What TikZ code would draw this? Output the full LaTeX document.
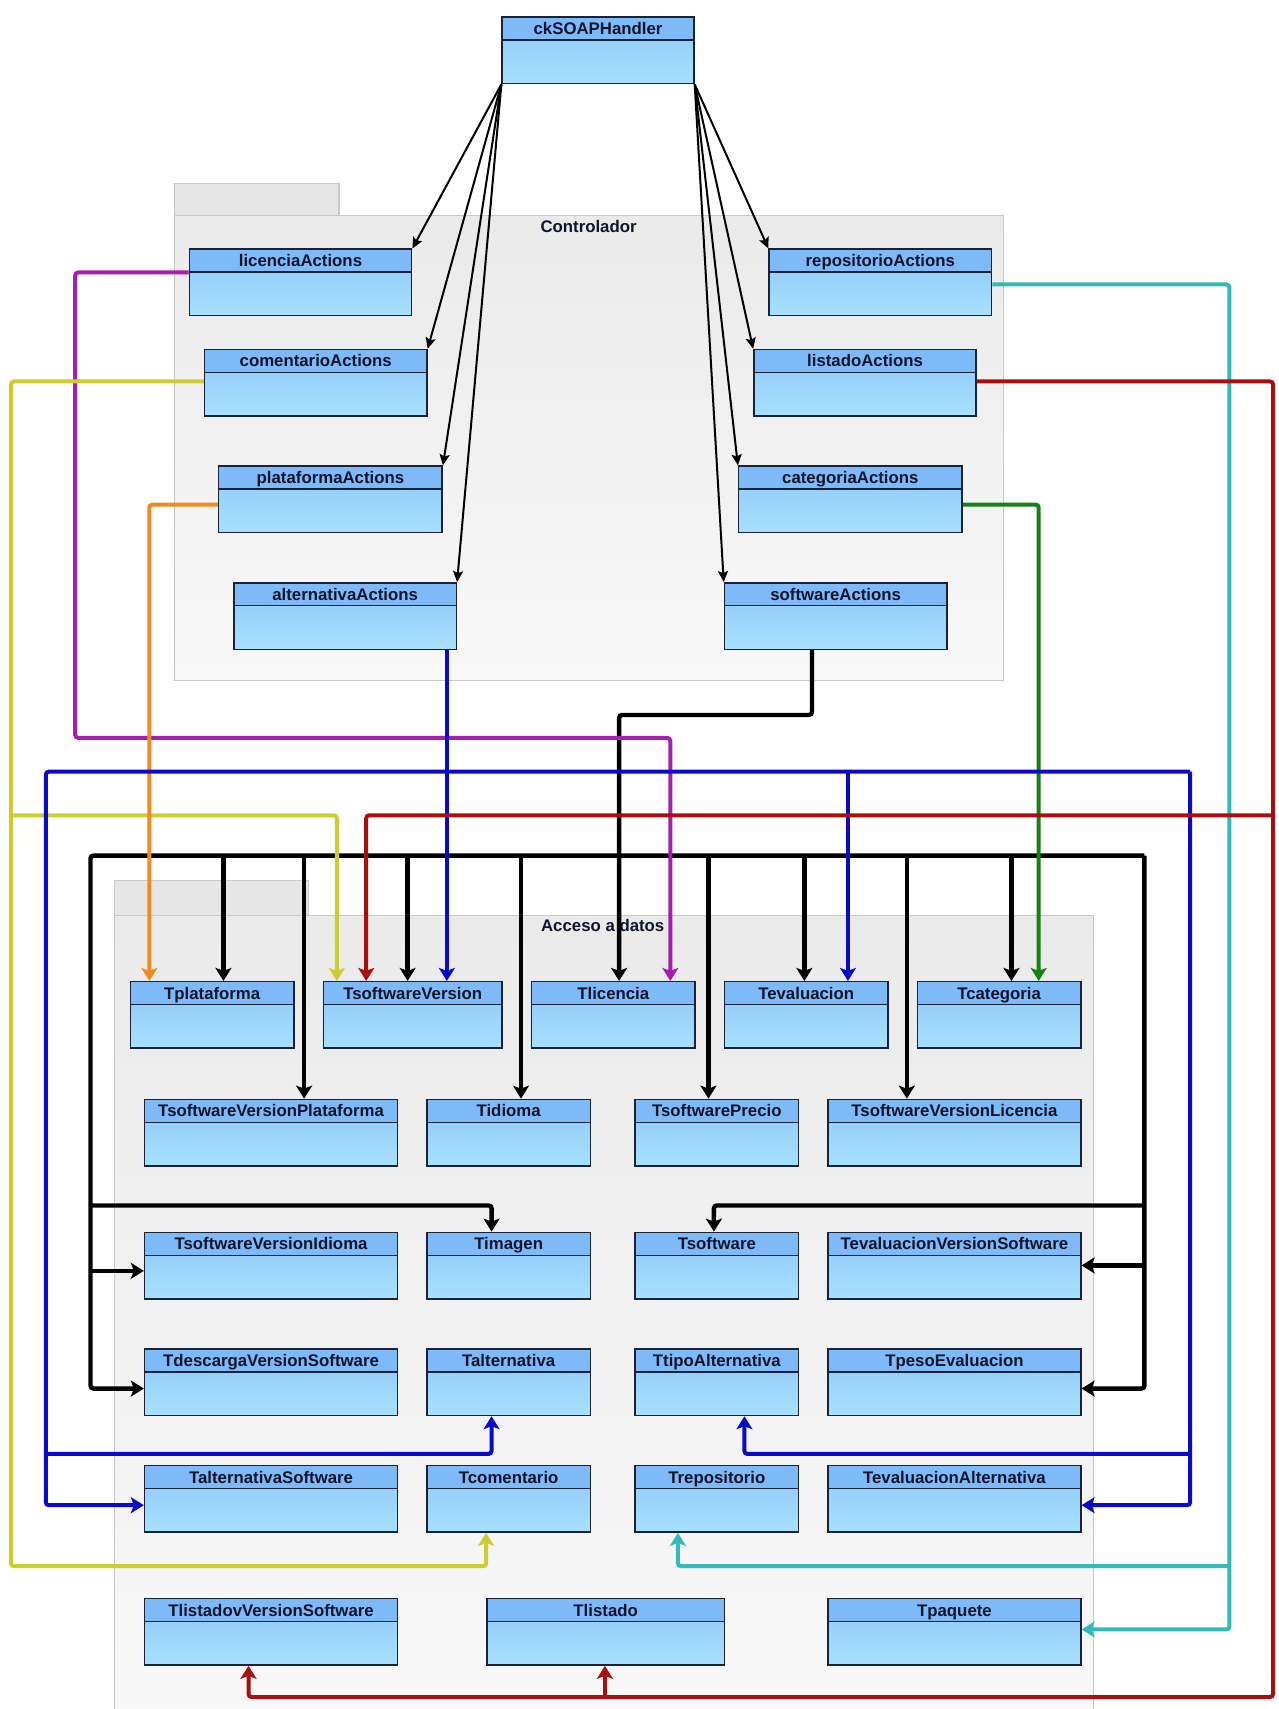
\documentclass[tikz,border=0pt]{standalone}
\usepackage{fontspec}
\setmainfont{Liberation Sans}
\usepackage{tikz}
\usetikzlibrary{arrows.meta}
\newcommand{\upx}{0.545pt}
\definecolor{classedge}{RGB}{25,35,55}
\definecolor{classtext}{RGB}{15,20,45}
\definecolor{headblue}{RGB}{126,186,248}
\definecolor{bodytop}{RGB}{140,200,250}
\definecolor{bodybottom}{RGB}{168,224,253}
\definecolor{pkgedge}{RGB}{200,200,200}
\definecolor{tabgray}{RGB}{230,230,230}
\definecolor{pkgtop}{RGB}{234,234,234}
\definecolor{pkgbottom}{RGB}{248,248,248}
\definecolor{lilac}{RGB}{165,30,175}
\definecolor{mustard}{RGB}{204,204,51}
\definecolor{amber}{RGB}{240,140,30}
\definecolor{royal}{RGB}{10,10,200}
\definecolor{leaf}{RGB}{20,130,20}
\definecolor{tealish}{RGB}{50,185,185}
\definecolor{wine}{RGB}{170,15,15}
\tikzset{
  umlclass/.style={rectangle, draw=classedge, line width=0.75pt, anchor=north west,
              inner sep=0pt, text height=16*\upx, text depth=45*\upx, text=classtext,
              font=\fontsize{8.4}{10}\selectfont\bfseries,
              top color=bodytop, bottom color=bodybottom,
              path picture={
                \fill[headblue] (path picture bounding box.north west) rectangle
                  ([yshift=-21*\upx]path picture bounding box.north east);
                \draw[classedge, line width=0.75pt]
                  ([yshift=-21*\upx]path picture bounding box.north west) --
                  ([yshift=-21*\upx]path picture bounding box.north east);}},
  cw/.style={minimum width=#1*\upx},
  pkgtab/.style={draw=pkgedge, line width=0.6pt, fill=tabgray},
  pkgbody/.style={draw=pkgedge, line width=0.6pt, top color=pkgtop, bottom color=pkgbottom},
  pkgtitle/.style={anchor=base, font=\fontsize{8.4}{10}\selectfont\bfseries, text=classtext},
  callarrow/.style={-{Stealth[length=5.5pt, width=5pt, inset=1pt]}, line width=1pt, draw=black},
  link/.style={-{Stealth[length=6.5pt, width=8pt, inset=1.5pt]}, line width=2pt, rounded corners=1.5pt},
  busarrow/.style={link, line width=2.2pt, color=black},
}

\begin{document}
\begin{tikzpicture}[x=\upx, y=-\upx]
  \useasboundingbox (0,0) rectangle (1173,1568);

  % Packages
  \draw[pkgtab] (160,168) rectangle (311,198);
  \draw[pkgbody] (160,198) rectangle (921,624);
  \node[pkgtitle] (controlador) at (540,213) {Controlador};

  \draw[pkgtab] (105,808) rectangle (283,840);
  \draw[pkgbody] (105,840) rectangle (1003,1590);
  \node[pkgtitle] (accesodatos) at (553,855) {Acceso a datos};

  % Handler and actions
  \node[umlclass, cw=176] (ckSOAPHandler) at (460,15) {ckSOAPHandler};

  \node[umlclass, cw=204] (licenciaActions) at (173,228) {licenciaActions};
  \node[umlclass, cw=204] (comentarioActions) at (187,320) {comentarioActions};
  \node[umlclass, cw=205] (plataformaActions) at (200,427) {plataformaActions};
  \node[umlclass, cw=204] (alternativaActions) at (214,534) {alternativaActions};
  \node[umlclass, cw=204] (repositorioActions) at (705,228) {repositorioActions};
  \node[umlclass, cw=204] (listadoActions) at (691,320) {listadoActions};
  \node[umlclass, cw=205] (categoriaActions) at (677,427) {categoriaActions};
  \node[umlclass, cw=204] (softwareActions) at (664,534) {softwareActions};

  % Tables
  \node[umlclass, cw=150] (Tplataforma) at (119,900) {Tplataforma};
  \node[umlclass, cw=164] (TsoftwareVersion) at (296,900) {TsoftwareVersion};
  \node[umlclass, cw=150] (Tlicencia) at (487,900) {Tlicencia};
  \node[umlclass, cw=150] (Tevaluacion) at (664,900) {Tevaluacion};
  \node[umlclass, cw=150] (Tcategoria) at (841,900) {Tcategoria};

  \node[umlclass, cw=232] (TsoftwareVersionPlataforma) at (132,1008) {TsoftwareVersionPlataforma};
  \node[umlclass, cw=150] (Tidioma) at (391,1008) {Tidioma};
  \node[umlclass, cw=150] (TsoftwarePrecio) at (582,1008) {TsoftwarePrecio};
  \node[umlclass, cw=232] (TsoftwareVersionLicencia) at (759,1008) {TsoftwareVersionLicencia};

  \node[umlclass, cw=232] (TsoftwareVersionIdioma) at (132,1130) {TsoftwareVersionIdioma};
  \node[umlclass, cw=150] (Timagen) at (391,1130) {Timagen};
  \node[umlclass, cw=150] (Tsoftware) at (582,1130) {Tsoftware};
  \node[umlclass, cw=232] (TevaluacionVersionSoftware) at (759,1130) {TevaluacionVersionSoftware};

  \node[umlclass, cw=232] (TdescargaVersionSoftware) at (132,1237) {TdescargaVersionSoftware};
  \node[umlclass, cw=150] (Talternativa) at (391,1237) {Talternativa};
  \node[umlclass, cw=150] (TtipoAlternativa) at (582,1237) {TtipoAlternativa};
  \node[umlclass, cw=232] (TpesoEvaluacion) at (759,1237) {TpesoEvaluacion};

  \node[umlclass, cw=232] (TalternativaSoftware) at (132,1344) {TalternativaSoftware};
  \node[umlclass, cw=150] (Tcomentario) at (391,1344) {Tcomentario};
  \node[umlclass, cw=150] (Trepositorio) at (582,1344) {Trepositorio};
  \node[umlclass, cw=232] (TevaluacionAlternativa) at (759,1344) {TevaluacionAlternativa};

  \node[umlclass, cw=232] (TlistadovVersionSoftware) at (132,1466) {TlistadovVersionSoftware};
  \node[umlclass, cw=218] (Tlistado) at (446,1466) {Tlistado};
  \node[umlclass, cw=232] (Tpaquete) at (759,1466) {Tpaquete};

  % Handler calls
  \draw[callarrow] (ckSOAPHandler.south west) -- (licenciaActions.north east);
  \draw[callarrow] (ckSOAPHandler.south west) -- (comentarioActions.north east);
  \draw[callarrow] (ckSOAPHandler.south west) -- (plataformaActions.north east);
  \draw[callarrow] (ckSOAPHandler.south west) -- (alternativaActions.north east);
  \draw[callarrow] (ckSOAPHandler.south east) -- (repositorioActions.north west);
  \draw[callarrow] (ckSOAPHandler.south east) -- (listadoActions.north west);
  \draw[callarrow] (ckSOAPHandler.south east) -- (categoriaActions.north west);
  \draw[callarrow] (ckSOAPHandler.south east) -- (softwareActions.north west);

  % Black bus
  \draw[busarrow] (softwareActions.south -| 745,0) |- (568,656) -- (568,0 |- Tlicencia.north);
  \draw[busarrow] (1050,785) -| (83,1274) -- (TdescargaVersionSoftware.west |- 0,1274);
  \draw[busarrow] (1050,785) |- (TpesoEvaluacion.east |- 0,1274);
  \draw[busarrow] (205,785) -- (205,0 |- Tplataforma.north);
  \draw[busarrow] (279,785) -- (279,0 |- TsoftwareVersionPlataforma.north);
  \draw[busarrow] (374,785) -- (374,0 |- TsoftwareVersion.north);
  \draw[busarrow] (478,785) -- (478,0 |- Tidioma.north);
  \draw[busarrow] (650,785) -- (650,0 |- TsoftwarePrecio.north);
  \draw[busarrow] (738,785) -- (738,0 |- Tevaluacion.north);
  \draw[busarrow] (832,785) -- (832,0 |- TsoftwareVersionLicencia.north);
  \draw[busarrow] (928,785) -- (928,0 |- Tcategoria.north);
  \draw[busarrow] (83,1106) -| (451,0 |- Timagen.north);
  \draw[busarrow] (83,1166) -- (TsoftwareVersionIdioma.west |- 0,1166);
  \draw[busarrow] (1050,1106) -| (655,0 |- Tsoftware.north);
  \draw[busarrow] (1050,1161) -- (TevaluacionVersionSoftware.east |- 0,1161);

  % Coloured links
  \draw[link, color=lilac] (licenciaActions.west |- 0,250) -| (69,677) -| (615,0 |- Tlicencia.north);
  \draw[link, color=mustard] (comentarioActions.west |- 0,350) -| (10,1437) -| (446,0 |- Tcomentario.south);
  \draw[link, color=mustard] (10,748) -| (309,0 |- TsoftwareVersion.north);
  \draw[link, color=amber] (plataformaActions.west |- 0,463) -| (137,0 |- Tplataforma.north);
  \draw[link, color=leaf] (categoriaActions.east |- 0,463) -| (953,0 |- Tcategoria.north);

  \draw[link, color=royal] (alternativaActions.south -| 410,0) -- (410,0 |- TsoftwareVersion.north);
  \draw[link, color=royal] (1092,708) -- (42,708) |- (TalternativaSoftware.west |- 0,1381);
  \draw[link, color=royal] (1092,708) |- (TevaluacionAlternativa.east |- 0,1381);
  \draw[link, color=royal] (778,708) -- (778,0 |- Tevaluacion.north);
  \draw[link, color=royal] (42,1334) -| (451,0 |- Talternativa.south);
  \draw[link, color=royal] (1092,1334) -| (683,0 |- TtipoAlternativa.south);

  \draw[link, color=tealish] (repositorioActions.east |- 0,261) -| (1128,1495) -- (Tpaquete.east |- 0,1495);
  \draw[link, color=tealish] (1128,1437) -| (622,0 |- Trepositorio.south);

  \draw[link, color=wine] (listadoActions.east |- 0,350) -| (1168,1557) -| (228,0 |- TlistadovVersionSoftware.south);
  \draw[link, color=wine] (1168,748) -| (336,0 |- TsoftwareVersion.north);
  \draw[link, color=wine] (555,1557) -- (555,0 |- Tlistado.south);
\end{tikzpicture}
\end{document}
